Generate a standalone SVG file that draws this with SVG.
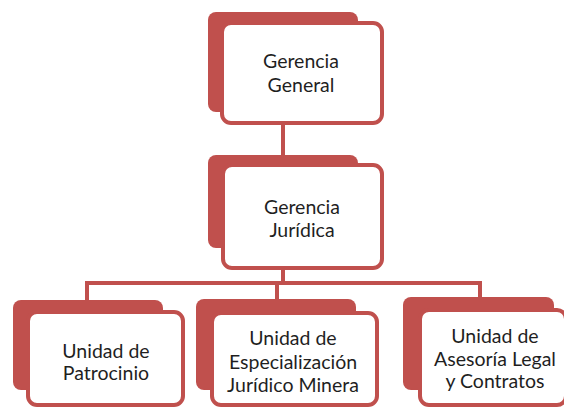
<svg xmlns="http://www.w3.org/2000/svg" width="564" height="408" viewBox="0 0 564 408">
<style>
.back{fill:#c0504d;}
.front{fill:#ffffff;stroke:#c0504d;stroke-width:4;}
.conn{fill:none;stroke:#c0504d;stroke-width:4;}
text{font-family:Lato,"Open Sans","Liberation Sans",sans-serif;font-size:19.5px;fill:#1f1f1f;text-anchor:middle;}
</style>
<rect width="564" height="408" fill="#ffffff"/>
<g id="connectors">
<path class="conn" d="M283,123 V156"/>
<path class="conn" d="M283,268 V283"/>
<path class="conn" d="M87,283 H481"/>
<path class="conn" d="M87,281 V301"/>
<path class="conn" d="M277,283 V300"/>
<path class="conn" d="M480,281 V298"/>
</g>
<g id="node-gerencia-general">
<rect class="back" x="208" y="12" width="150" height="100" rx="8"/>
<rect class="front" x="222" y="23" width="160" height="100" rx="9"/>
<text x="301" y="68">Gerencia</text>
<text x="301" y="92">General</text>
</g>
<g id="node-gerencia-juridica">
<rect class="back" x="208" y="155" width="150" height="93" rx="8"/>
<rect class="front" x="223" y="165" width="159" height="103" rx="9"/>
<text x="302" y="214">Gerencia</text>
<text x="302" y="237">Jurídica</text>
</g>
<g id="node-patrocinio">
<rect class="back" x="13" y="300" width="150" height="90" rx="8"/>
<rect class="front" x="28" y="312" width="155" height="93" rx="9"/>
<text x="106" y="358">Unidad de</text>
<text x="106" y="380">Patrocinio</text>
</g>
<g id="node-especializacion">
<rect class="back" x="196" y="299" width="160" height="91" rx="8"/>
<rect class="front" x="212" y="313" width="165" height="92" rx="9"/>
<text x="293" y="345">Unidad de</text>
<text x="293" y="369">Especialización</text>
<text x="293" y="392">Jurídico Minera</text>
</g>
<g id="node-asesoria">
<rect class="back" x="403" y="297" width="151" height="93" rx="8"/>
<rect class="front" x="420" y="310" width="146" height="95" rx="9"/>
<text x="495" y="343">Unidad de</text>
<text x="495" y="366">Asesoría Legal</text>
<text x="495" y="388">y Contratos</text>
</g>
</svg>
